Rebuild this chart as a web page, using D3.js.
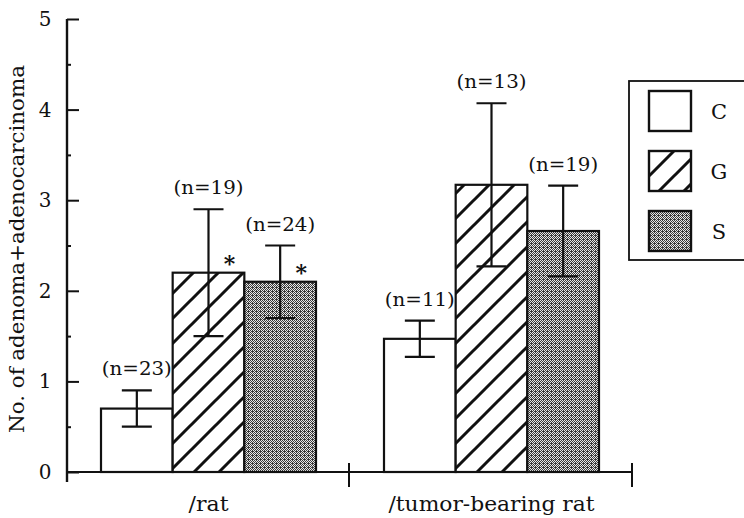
<!DOCTYPE html>
<html><head><meta charset="utf-8">
<script src="https://cdn.jsdelivr.net/npm/d3@7"></script>
<style>body{margin:0;background:#fff}svg{display:block}</style>
</head><body>
<script>
const groups = ["/rat", "/tumor-bearing rat"];
const series = ["C", "G", "S"];
const means = [[0.7, 2.2, 2.1], [1.47, 3.17, 2.66]];
const errs = [[0.2, 0.7, 0.4], [0.2, 0.9, 0.5]];
const nLabels = [["(n=23)", "(n=19)", "(n=24)"], ["(n=11)", "(n=13)", "(n=19)"]];
const stars = [["", "*", "*"], ["", "", ""]];
const yTicks = [0, 1, 2, 3, 4, 5];
const yMinor = [0.5, 1.5, 2.5, 3.5, 4.5];

const W = 744, H = 518;
const FONT = "DejaVu Serif";
const svg = d3.select("body").append("svg").attr("width", W).attr("height", H)
  .style("font-family", FONT).style("fill", "#111");
const defs = svg.append("defs");
const hatch = defs.append("pattern").attr("id", "hatch").attr("patternUnits", "userSpaceOnUse")
  .attr("width", 25).attr("height", 25);
hatch.append("rect").attr("width", 25).attr("height", 25).attr("fill", "#fff");
hatch.append("path").attr("d", "M-5,30 L30,-5 M-5,5 L5,-5 M20,30 L30,20").attr("stroke", "#111").attr("stroke-width", 3);
const dots = defs.append("pattern").attr("id", "dots").attr("patternUnits", "userSpaceOnUse")
  .attr("width", 4).attr("height", 4);
dots.append("rect").attr("width", 4).attr("height", 4).attr("fill", "#e8e8e8");
dots.append("path").attr("d", "M0,0h1v1h-1zM2,0h1v1h-1zM1,1h1v1h-1zM3,1h1v1h-1zM0,2h1v1h-1zM2,2h1v1h-1zM3,3h1v1h-1zM1,3h1v1h-1zM2,3h1v1h-1z").attr("fill", "#3a3a3a");
const fills = {C: "#fff", G: "url(#hatch)", S: "url(#dots)"};

const x0 = d3.scaleBand().domain(groups).range([66, 632]);
const x1 = d3.scaleBand().domain(series).range([35, 250]);
const y = d3.scaleLinear().domain([0, 5]).range([472, 19]);

// bars
groups.forEach((g, gi) => {
  const gg = svg.append("g").attr("transform", `translate(${x0(g)},0)`);
  series.forEach((s, si) => {
    const v = means[gi][si], e = errs[gi][si];
    const bx = x1(s), bw = x1.bandwidth(), cx = bx + bw / 2;
    gg.append("rect").attr("x", bx).attr("y", y(v)).attr("width", bw).attr("height", y(0) - y(v))
      .attr("fill", fills[s]).attr("stroke", "#111").attr("stroke-width", 2.2);
    gg.append("path").attr("d", `M${cx},${y(v - e)}V${y(v + e)}M${cx - 15},${y(v + e)}H${cx + 15}M${cx - 15},${y(v - e)}H${cx + 15}`)
      .attr("stroke", "#111").attr("stroke-width", 2.2).attr("fill", "none");
    gg.append("text").attr("x", cx).attr("y", y(v + e) - 15).attr("text-anchor", "middle")
      .attr("font-size", 19).attr("textLength", 70).attr("lengthAdjust", "spacingAndGlyphs").text(nLabels[gi][si]);
    if (stars[gi][si]) {
      gg.append("text").attr("x", cx + 21).attr("y", y(v) - 2).attr("text-anchor", "middle")
        .attr("font-size", 22).attr("font-weight", "bold").text(stars[gi][si]);
    }
  });
});

// y axis
const yAxis = d3.axisRight(y).tickValues(yTicks).tickSize(12).tickFormat("");
const ya = svg.append("g").attr("transform", "translate(67,0)").call(yAxis);
ya.select(".domain").remove();
ya.selectAll("line").attr("stroke", "#111").attr("stroke-width", 2);
svg.append("g").attr("transform", "translate(67,0)").call(d3.axisRight(y).tickValues(yMinor).tickSize(4).tickFormat(""))
  .call(a => a.select(".domain").remove()).selectAll("line").attr("stroke", "#111").attr("stroke-width", 2);
svg.append("line").attr("x1", 67).attr("x2", 67).attr("y1", y(5)).attr("y2", 482).attr("stroke", "#111").attr("stroke-width", 2.4);
svg.selectAll(".ylab").data(yTicks).join("text").attr("class", "ylab")
  .attr("x", 45).attr("y", d => y(d) + 7).attr("text-anchor", "middle").attr("font-size", 20).text(d => d);

// x axis
svg.append("line").attr("x1", 66).attr("x2", 632).attr("y1", y(0)).attr("y2", y(0)).attr("stroke", "#111").attr("stroke-width", 2.2);
const xBounds = groups.map(g => x0(g) + x0.bandwidth());
svg.selectAll(".xt").data(xBounds).join("line").attr("class", "xt")
  .attr("x1", d => d).attr("x2", d => d).attr("y1", y(0) - 9).attr("y2", y(0) + 15).attr("stroke", "#111").attr("stroke-width", 2);
const xlw = {"/rat": 40, "/tumor-bearing rat": 206};
svg.selectAll(".xlab").data(groups).join("text").attr("class", "xlab")
  .attr("x", g => x0(g) + x1("G") + x1.bandwidth() / 2).attr("y", 511).attr("text-anchor", "middle")
  .attr("font-size", 20).attr("textLength", g => xlw[g]).attr("lengthAdjust", "spacingAndGlyphs").text(g => g);

// y title
svg.append("text").attr("transform", "translate(24,249) rotate(-90)").attr("text-anchor", "middle")
  .attr("font-size", 20).attr("textLength", 368).attr("lengthAdjust", "spacingAndGlyphs")
  .text("No. of adenoma+adenocarcinoma");

// legend
const lg = svg.append("g");
lg.append("rect").attr("x", 629).attr("y", 81).attr("width", 130).attr("height", 179)
  .attr("fill", "#fff").attr("stroke", "#111").attr("stroke-width", 1.8);
series.forEach((s, i) => {
  const ly = 91 + i * 60;
  lg.append("rect").attr("x", 649).attr("y", ly).attr("width", 42).attr("height", 40)
    .attr("fill", fills[s]).attr("stroke", "#111").attr("stroke-width", 2.4);
  lg.append("text").attr("x", 719).attr("y", ly + 28).attr("text-anchor", "middle").attr("font-size", 21).text(s);
});
</script>
</body></html>
